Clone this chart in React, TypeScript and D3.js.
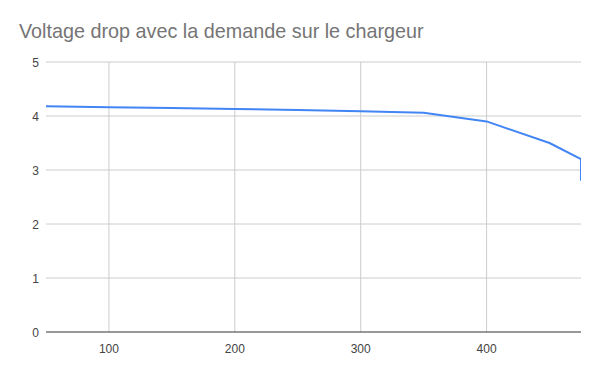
import React from "react";
import * as d3 from "d3";

const xValues = [50, 100, 150, 200, 250, 300, 350, 400, 450, 475, 475];
const yValues = [4.18, 4.16, 4.15, 4.13, 4.11, 4.09, 4.06, 3.9, 3.5, 3.2, 2.8];
const xTicks = [100, 200, 300, 400];
const yTicks = [0, 1, 2, 3, 4, 5];
const title = "Voltage drop avec la demande sur le chargeur";

export default function App() {
  const W = 600, H = 371;
  const left = 46, right = 581, top = 62, bottom = 332;
  const x = d3.scaleLinear().domain([50, 475]).range([left, right]);
  const y = d3.scaleLinear().domain([0, 5]).range([bottom, top]);
  const data = xValues.map((v, i) => [v, yValues[i]] as [number, number]);
  const line = d3.line<[number, number]>().x(d => x(d[0])).y(d => y(d[1]));
  const font = "Arial, 'Liberation Sans', sans-serif";
  return (
    <svg width={W} height={H} style={{ position: "absolute", left: 0, top: 0, background: "#fff" }}>
      <defs>
        <clipPath id="plot">
          <rect x={left - 2} y={top - 10} width={right - left + 2} height={bottom - top + 20} />
        </clipPath>
      </defs>
      <rect width={W} height={H} fill="#fff" />
      <text x={19} y={38} fontFamily={font} fontSize={19.8} fill="#757575">{title}</text>
      {yTicks.map(t => (
        <g key={"y" + t}>
          {t !== 0 && <line x1={left} x2={right} y1={y(t)} y2={y(t)} stroke="#cccccc" strokeWidth={1} />}
          <text x={39} y={y(t) + 4.5} textAnchor="end" fontFamily={font} fontSize={12} fill="#444">{t}</text>
        </g>
      ))}
      {xTicks.map(t => (
        <g key={"x" + t}>
          <line x1={x(t)} x2={x(t)} y1={top} y2={bottom} stroke="#cccccc" strokeWidth={1} />
          <text x={x(t)} y={353} textAnchor="middle" fontFamily={font} fontSize={12} fill="#444">{t}</text>
        </g>
      ))}
      <line x1={left} x2={right} y1={y(0)} y2={y(0)} stroke="#333" strokeWidth={1} />
      <path d={line(data) || ""} fill="none" stroke="#4285F4" strokeWidth={2} strokeLinejoin="round" clipPath="url(#plot)" />
    </svg>
  );
}
